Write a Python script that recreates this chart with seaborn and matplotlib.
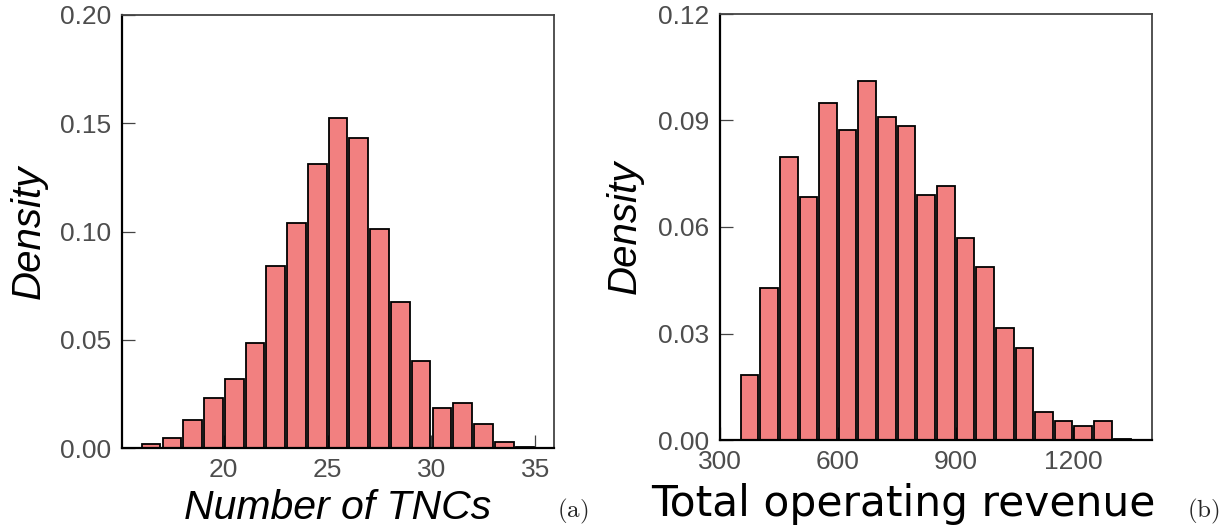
import matplotlib
matplotlib.use('Agg')
import matplotlib.pyplot as plt
import seaborn as sns
import pandas as pd

# (a) number of TNCs, bins of width 1
tnc_bin_left = [16, 17, 18, 19, 20, 21, 22, 23, 24, 25, 26, 27, 28, 29, 30, 31, 32, 33, 34]
tnc_density = [0.0017, 0.0048, 0.0131, 0.0232, 0.0320, 0.0485, 0.0842, 0.1040, 0.1313, 0.1522,
               0.1433, 0.1013, 0.0674, 0.0400, 0.0185, 0.0208, 0.0111, 0.0029, 0.0003]
tnc_width = 1

# (b) total operating revenue, bins of width 50
rev_bin_left = [350, 400, 450, 500, 550, 600, 650, 700, 750, 800,
                850, 900, 950, 1000, 1050, 1100, 1150, 1200, 1250, 1300]
rev_density = [0.0184, 0.0428, 0.0798, 0.0685, 0.0948, 0.0873, 0.1012, 0.0909, 0.0885, 0.0691,
               0.0715, 0.0569, 0.0487, 0.0315, 0.0258, 0.0080, 0.0054, 0.0040, 0.0054, 0.0003]
rev_width = 50

tnc_ticks = [20, 25, 30, 35]
tnc_yticks = [0.00, 0.05, 0.10, 0.15, 0.20]
rev_ticks = [300, 600, 900, 1200]
rev_yticks = [0.00, 0.03, 0.06, 0.09, 0.12]

sns.set_style('white')
plt.rcParams['font.family'] = ['Liberation Sans', 'DejaVu Sans']
plt.rcParams['mathtext.fontset'] = 'cm'

bar_color = '#F28080'
tick_color = '#4D4D4D'

fig = plt.figure(figsize=(12.29, 5.29), dpi=100)
ax1 = fig.add_axes([122 / 1229, 81 / 529, 432 / 1229, 433 / 529])
ax2 = fig.add_axes([720 / 1229, 89 / 529, 432 / 1229, 426 / 529])


def draw_hist(ax, left, dens, width):
    df = pd.DataFrame({'x': [l + width / 2 for l in left], 'w': dens})
    edges = list(left) + [left[-1] + width]
    sns.histplot(data=df, x='x', weights='w', bins=edges, stat='count',
                 shrink=0.9, color=bar_color, edgecolor='black', linewidth=1.3,
                 alpha=1, ax=ax)


def style_axes(ax):
    ax.set_axisbelow(True)
    ax.tick_params(direction='in', length=9.5, width=0.9, color='#444444',
                   labelcolor=tick_color, labelsize=19, pad=7,
                   left=True, bottom=True)
    ax.tick_params(axis='y', pad=8)
    for side in ['left', 'bottom']:
        ax.spines[side].set_color('black')
        ax.spines[side].set_linewidth(1.6)
    for side in ['top', 'right']:
        ax.spines[side].set_color('#444444')
        ax.spines[side].set_linewidth(1.3)


draw_hist(ax1, tnc_bin_left, tnc_density, tnc_width)
style_axes(ax1)
ax1.set_xlim(15.1, 35.9)
ax1.set_ylim(0, 0.2)
ax1.set_xticks(tnc_ticks)
ax1.set_yticks(tnc_yticks)
ax1.set_yticklabels([f'{v:.2f}' for v in tnc_yticks])
ax1.set_xlabel('Number of TNCs', fontsize=29.5, style='italic', color='black')
ax1.set_ylabel('Density', fontsize=29, style='italic', color='black')
ax1.xaxis.set_label_coords(0.5, -0.095)
ax1.yaxis.set_label_coords(-0.172, 0.5)

draw_hist(ax2, rev_bin_left, rev_density, rev_width)
style_axes(ax2)
ax2.set_xlim(300, 1400)
ax2.set_ylim(0, 0.12)
ax2.set_xticks(rev_ticks)
ax2.set_yticks(rev_yticks)
ax2.set_yticklabels([f'{v:.2f}' for v in rev_yticks])
ax2.set_xlabel('Total operating revenue', fontsize=30.5, color='black',
               family='DejaVu Sans')
ax2.set_ylabel('Density', fontsize=29, style='italic', color='black')
ax2.xaxis.set_label_coords(0.424, -0.1)
ax2.yaxis.set_label_coords(-0.176, 0.5)

fig.text(573 / 1229, 1 - 511 / 529, r'$\mathrm{(a)}$', fontsize=18,
         ha='center', va='center')
fig.text(1203 / 1229, 1 - 511 / 529, r'$\mathrm{(b)}$', fontsize=18,
         ha='center', va='center')

fig.savefig('out.png', dpi=100)
